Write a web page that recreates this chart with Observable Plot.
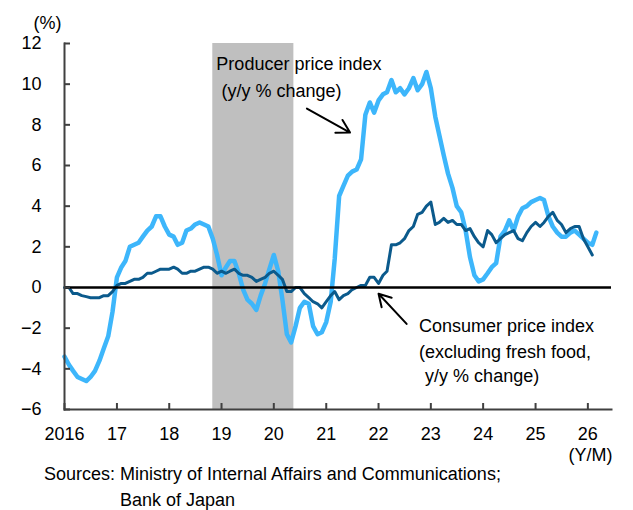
<!DOCTYPE html>
<html><head><meta charset="utf-8">
<script src="https://cdn.jsdelivr.net/npm/d3@7"></script>
<script src="https://cdn.jsdelivr.net/npm/@observablehq/plot@0.6"></script>
<style>
body{margin:0;background:#fff;}
#chart{position:relative;width:633px;height:510px;overflow:hidden;font-family:Arial,"Liberation Sans",sans-serif;}
#chart svg{display:block;}
.caption{position:absolute;left:44px;top:461px;font-size:18px;line-height:26px;color:#000;white-space:nowrap;}
.caption span{display:inline-block;vertical-align:top;}
</style></head><body><div id="chart"></div>
<script>
// Consumer price index (excluding fresh food), y/y %, monthly from Jan 2016
const cpiValues = [
  0.0, 0.0, -0.3, -0.3, -0.4, -0.45, -0.5, -0.5, -0.5, -0.4, -0.4, -0.2,
  0.1, 0.2, 0.2, 0.3, 0.4, 0.4, 0.5, 0.7, 0.7, 0.8, 0.9, 0.9,
  0.9, 1.0, 0.9, 0.7, 0.7, 0.8, 0.8, 0.9, 1.0, 1.0, 0.9, 0.7,
  0.8, 0.7, 0.8, 0.9, 0.7, 0.6, 0.6, 0.5, 0.3, 0.4, 0.5, 0.7,
  0.8, 0.6, 0.4, -0.2, -0.2, 0.0, 0.0, -0.3, -0.5, -0.7, -0.8, -1.0,
  -0.7, -0.4, -0.2, -0.6, -0.4, -0.3, -0.1, 0.0, 0.1, 0.1, 0.5, 0.5,
  0.2, 0.6, 0.8, 2.1, 2.1, 2.2, 2.4, 2.8, 3.0, 3.6, 3.7, 4.0,
  4.2, 3.1, 3.2, 3.4, 3.2, 3.3, 3.1, 3.1, 2.8, 2.9, 2.5, 2.2,
  2.0, 2.8, 2.6, 2.2, 2.4, 2.6, 2.7, 2.8, 2.4, 2.3, 2.7, 3.0,
  3.2, 3.0, 3.2, 3.5, 3.7, 3.3, 3.1, 2.7, 2.9, 3.0, 3.0, 2.4,
  2.0, 1.6
];
// Producer price index, y/y %, monthly from Jan 2016
const ppiValues = [
  -3.4, -3.8, -4.1, -4.4, -4.5, -4.6, -4.4, -4.1, -3.6, -3.0, -2.4, -1.2,
  0.5, 1.0, 1.3, 2.0, 2.1, 2.2, 2.5, 2.8, 3.0, 3.5, 3.5, 3.0,
  2.6, 2.5, 2.1, 2.2, 2.8, 2.9, 3.1, 3.2, 3.1, 3.0, 2.4, 1.6,
  0.6, 1.0, 1.3, 1.3, 0.7, -0.1, -0.6, -0.8, -1.1, -0.4, 0.2, 0.9,
  1.6, 0.8, -0.6, -2.3, -2.7, -1.9, -1.0, -0.7, -0.8, -1.9, -2.3, -2.2,
  -1.7, -0.7, 1.4, 4.5, 5.0, 5.5, 5.7, 5.8, 6.3, 8.5, 9.1, 8.6,
  9.2, 9.5, 9.6, 10.2, 9.6, 9.8, 9.5, 9.8, 10.3, 9.7, 10.0, 10.6,
  9.8, 8.4, 7.5, 6.5, 5.6, 4.9, 4.0, 3.7, 2.8, 1.5, 0.6, 0.3,
  0.4, 0.7, 1.0, 1.2, 2.5, 2.8, 3.3, 2.8, 3.5, 3.9, 4.0, 4.2,
  4.3, 4.4, 4.3, 3.5, 3.0, 2.7, 2.5, 2.5, 2.7, 2.8, 2.6, 2.4,
  2.2, 2.1, 2.7
];
const startYear = 2016;
const yearTicks = [2016, 2017, 2018, 2019, 2020, 2021, 2022, 2023, 2024, 2025, 2026];
const yearLabels = ["2016", "17", "18", "19", "20", "21", "22", "23", "24", "25", "26"];
const yTicks = [-6, -4, -2, 0, 2, 4, 6, 8, 10, 12];
const recession = [{start: "2018-11-01", end: "2020-05-20"}];
const ppiLabel = [
  {text: "Producer price index", x: "2018-11-26", y: 10.97},
  {text: "(y/y % change)", x: "2019-01-01", y: 9.64}
];
const cpiLabel = [
  {text: "Consumer price index", x: "2022-10-10", y: -1.92},
  {text: "(excluding fresh food,", x: "2022-10-10", y: -3.2},
  {text: "y/y % change)", x: "2022-11-22", y: -4.38}
];
const arrows = [
  {x1: "2020-08-19", y1: 8.8, x2: "2021-06-16", y2: 7.62},
  {x1: "2022-07-16", y1: -1.79, x2: "2022-01-01", y2: -0.31}
];

const monthDate = i => new Date(Date.UTC(startYear, i, 1));
const cpi = cpiValues.map((v, i) => ({date: monthDate(i), value: v}));
const ppi = ppiValues.map((v, i) => ({date: monthDate(i), value: v}));
const toDate = s => new Date(s + "T00:00:00Z");
const tickDates = yearTicks.map(y => new Date(Date.UTC(y, 0, 1)));
const labelOf = d => yearLabels[yearTicks.indexOf(d.getUTCFullYear())];

const H = 466;
const chart = Plot.plot({
  width: 633,
  height: H,
  marginLeft: 64,
  marginRight: 22,
  marginTop: 43,
  marginBottom: H - 409,
  style: {fontFamily: "Arial, 'Liberation Sans', sans-serif", fontSize: "18px", color: "#000", background: "#fff"},
  x: {type: "utc", domain: [new Date(Date.UTC(2016, 0, 1)), new Date(Date.UTC(2026, 5, 15))]},
  y: {domain: [-6, 12]},
  marks: [
    Plot.rectX(recession, {x1: d => toDate(d.start), x2: d => toDate(d.end), fill: "#bfbfbf"}),
    Plot.line(ppi, {x: "date", y: "value", stroke: "#3db6fb", strokeWidth: 4.5, strokeLinejoin: "round", strokeLinecap: "round"}),
    Plot.line(cpi, {x: "date", y: "value", stroke: "#0b5a8c", strokeWidth: 3, strokeLinejoin: "round", strokeLinecap: "round"}),
    Plot.ruleY([0], {stroke: "#000", strokeWidth: 2.5}),
    Plot.frame({anchor: "left", stroke: "#404040", strokeWidth: 2}),
    Plot.frame({anchor: "bottom", stroke: "#404040", strokeWidth: 2}),
    Plot.axisY(yTicks, {tickSize: -6, tickPadding: 29, stroke: "#404040", strokeWidth: 2, fontSize: 18, label: null}),
    Plot.axisX(tickDates, {tickSize: -6, tickPadding: 24, stroke: "#404040", strokeWidth: 2, fontSize: 18, tickFormat: labelOf, label: null}),
    Plot.text(ppiLabel, {x: d => toDate(d.x), y: "y", text: "text", textAnchor: "start", fontSize: 18}),
    Plot.text(cpiLabel, {x: d => toDate(d.x), y: "y", text: "text", textAnchor: "start", fontSize: 18}),
    Plot.arrow(arrows, {x1: d => toDate(d.x1), y1: "y1", x2: d => toDate(d.x2), y2: "y2", stroke: "#000", strokeWidth: 2, headLength: 11, bend: 0}),
    Plot.text(["(%)"], {frameAnchor: "top-left", textAnchor: "middle", dx: -17, dy: -27, fontSize: 18}),
    Plot.text(["(Y/M)"], {frameAnchor: "bottom-right", textAnchor: "end", dx: 1, dy: 51, fontSize: 18})
  ]
});
const root = document.getElementById("chart");
root.appendChild(chart);
const cap = document.createElement("div");
cap.className = "caption";
cap.innerHTML = '<span>Sources:&nbsp;</span><span>Ministry of Internal Affairs and Communications;<br>Bank of Japan</span>';
root.appendChild(cap);
</script>
</body></html>
